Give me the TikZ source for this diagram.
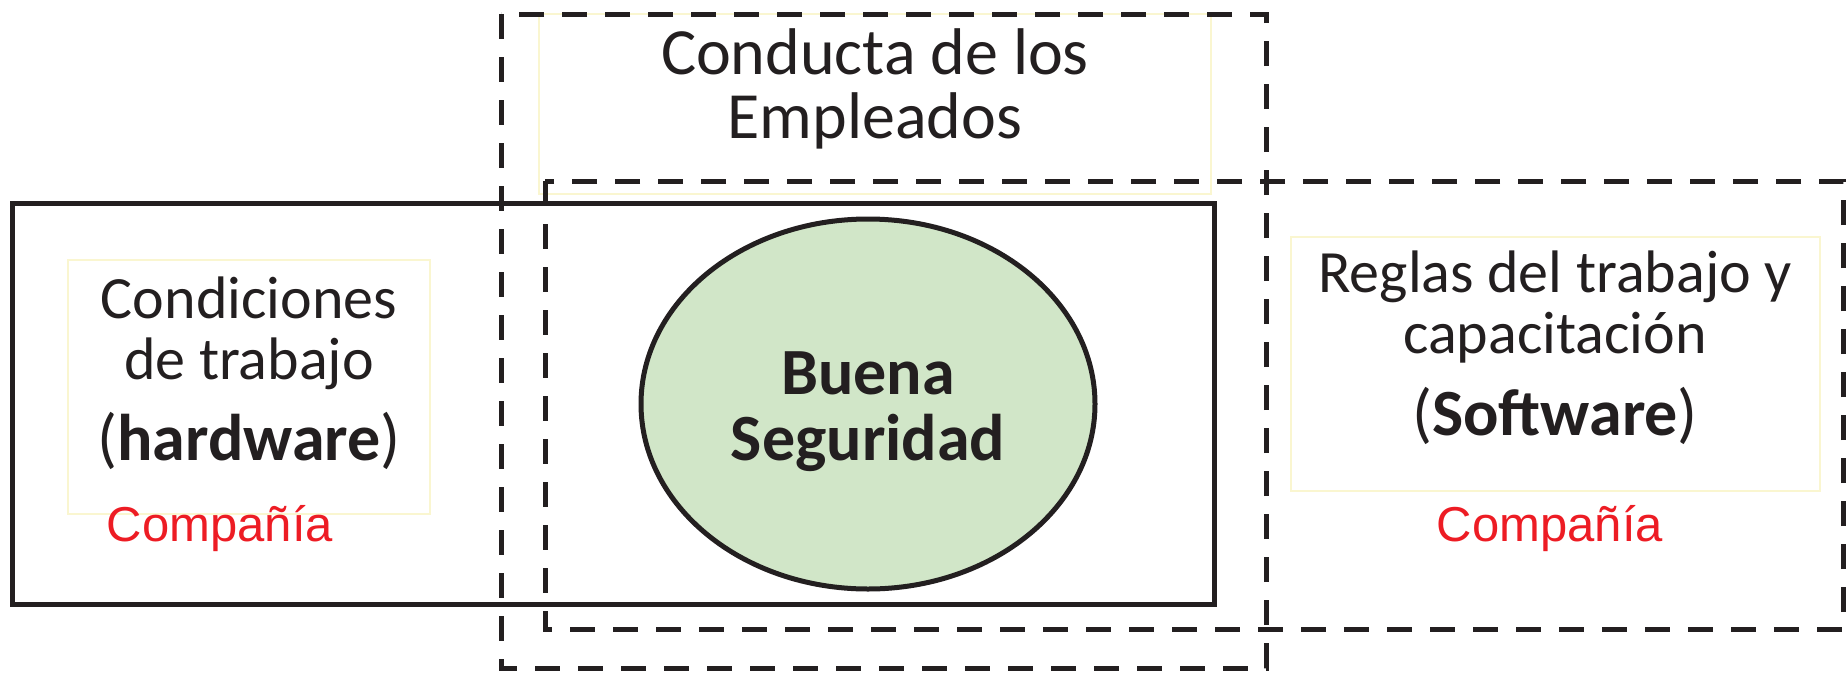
\documentclass[tikz,border=0pt]{standalone}
\usepackage{fontspec}
\setmainfont{Carlito}
\newfontfamily\arialfont{Liberation Sans}
\usetikzlibrary{positioning, shapes.geometric}
\definecolor{inkblack}{RGB}{35,31,32}
\definecolor{paleyellow}{RGB}{250,246,208}
\definecolor{safegreen}{RGB}{209,230,200}
\definecolor{firmred}{RGB}{237,28,36}
\tikzset{textlabel/.style={text=inkblack,align=center,font=\fontsize{60}{61}\selectfont}}
\newcommand{\bigbold}[1]{{\fontsize{66}{61}\selectfont(\textbf{#1})}}

\begin{document}
\begin{tikzpicture}[x=1pt,y=-1pt]
    \tikzstyle{frame}=[draw=inkblack,line width=5pt]
    \tikzstyle{dashframe}=[frame,dash pattern=on 25pt off 18pt]
    \tikzstyle{softbox}=[draw=paleyellow,line width=1.5pt]
    \tikzstyle{firm}=[text=firmred,font=\arialfont\fontsize{49}{58}\selectfont]

    \useasboundingbox (0,0) rectangle (1847,673);

    \draw[softbox] (539,14)  rectangle (1211,194);
    \draw[softbox] (68,260)  rectangle (430,514);
    \draw[softbox] (1291,237) rectangle (1820,491);

    \draw[frame]     (12,203)  rectangle (1214,604);
    \draw[dashframe] (501,14)  rectangle (1266,668);
    \draw[dashframe] (545,181) rectangle (1843,629);

    \node[frame,ellipse,fill=safegreen,minimum width=454,minimum height=370,
          textlabel,font=\bfseries\fontsize{66}{66}\selectfont]
          (safety) at (868,404) {};
    \node[textlabel,font=\bfseries\fontsize{66}{66}\selectfont] (safetytext) at (868,412) {Buena\\Seguridad};

    \node[textlabel,font=\fontsize{66}{64}\selectfont] (conduct) at (875,89) {Conducta de los\\Empleados};
    \node[textlabel] (hardware) at (249,373) {Condiciones\\de trabajo\\[20pt]\bigbold{hardware}};
    \node[textlabel] (software) at (1555,348) {Reglas del trabajo y\\capacitación\\[21pt]\bigbold{Software}};

    \node[firm] (firmL) at (220,529) {Compañía};
    \node[firm] (firmR) at (1550,529) {Compañía};
\end{tikzpicture}
\end{document}
